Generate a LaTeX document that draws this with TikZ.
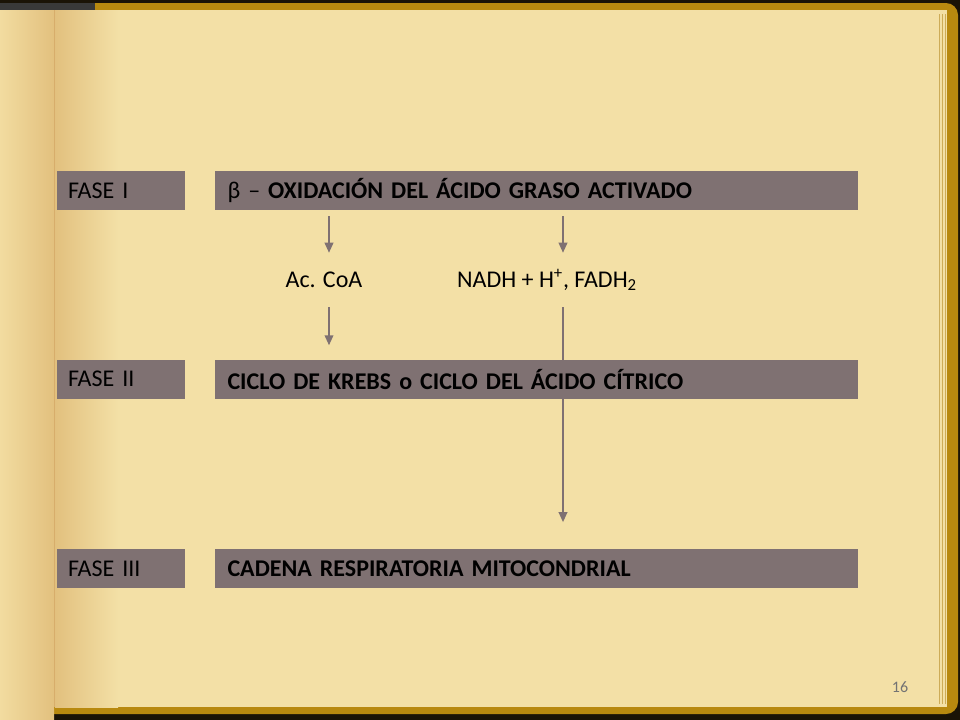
\documentclass[tikz,border=0pt]{standalone}
\usepackage{fontspec}
\setmainfont{Carlito}
\usetikzlibrary{positioning,arrows.meta}
\definecolor{boxgray}{HTML}{7F7172}
\definecolor{paper}{HTML}{F3E0A6}
\definecolor{paperlight}{HTML}{F2DCA0}
\definecolor{paperdark}{HTML}{E2C07E}
\definecolor{bookgold}{HTML}{B8890F}
\definecolor{bookblack}{HTML}{1A1306}
\pgfdeclarelayer{paperlayer}
\pgfdeclarelayer{linelayer}
\pgfsetlayers{paperlayer,linelayer,main}

\begin{document}
\begin{tikzpicture}[
                    x=0.75bp, y=-0.75bp,
                    node distance=21.75bp,
                    fase/.style={
                        rectangle,
                        fill=boxgray,
                        minimum width=96bp,
                        minimum height=29.25bp,
                        inner xsep=8.25bp,
                        text width=79.5bp,
                        align=left,
                        font=\fontsize{18bp}{20bp}\selectfont
                    },
                    stagebox/.style={
                        rectangle,
                        fill=boxgray,
                        minimum height=29.25bp,
                        inner xsep=9.75bp,
                        text width=462.75bp,
                        align=left,
                        font=\fontsize{18bp}{20bp}\selectfont\bfseries
                    },
                    product/.style={
                        inner sep=0pt,
                        minimum height=40.5bp,
                        font=\fontsize{18bp}{21bp}\selectfont
                    },
                    flow/.style={
                        draw=boxgray,
                        line width=1.2bp,
                        -{Triangle[length=7.5bp,width=6.5bp]}
                    }
                ]

                    % Book page
                    \begin{pgfonlayer}{paperlayer}
                    \fill[bookblack] (0,0) rectangle (960,720);
                    \fill[bookgold, rounded corners=9bp] (20,3) rectangle (958,714);
                    \fill[gray!45!black] (0,3) rectangle (95,10);
                    \fill[paper] (0,10) rectangle (947,707);
                    \foreach \px in {939,942,945}
                        \draw[bookgold!70, line width=0.6bp] (\px,14) -- (\px,704);
                    \shade[left color=paperlight, right color=paperdark] (0,10) rectangle (54,720);
                    \draw[paperdark!70!brown, line width=0.75bp] (54,10) -- (54,707);
                    \shade[left color=paperdark, right color=paper] (55,10) rectangle (118,707);
                    \end{pgfonlayer}

                    % Phases
                    \node[fase] (fase1) at (121,190.5) {FASE I};
                    \node[stagebox] (beta) [right=of fase1] {{\mdseries β –} OXIDACIÓN DEL ÁCIDO GRASO ACTIVADO};
                    \node[fase] (fase2) [below=111.75bp of fase1] {FASE II};
                    \node[stagebox] (krebs) [right=of fase2] {CICLO DE KREBS o CICLO DEL ÁCIDO CÍTRICO};
                    \node[fase] (fase3) [below=112.5bp of fase2] {FASE III};
                    \node[stagebox] (cadena) [right=of fase3] {CADENA RESPIRATORIA MITOCONDRIAL};

                    % Products
                    \node[product] (acoa) at (324,280) {Ac. CoA};
                    \node[product] (nadh) at (547,280) {NADH + H\textsuperscript{+}, FADH\textsubscript{2}};
                    \coordinate (colA) at (329,0);
                    \coordinate (colB) at (563,0);

                    % Arrows
                    \draw[flow, shorten <=4.5bp] (beta.south -| colA) -- (acoa.north -| colA);
                    \draw[flow, shorten <=4.5bp] (beta.south -| colB) -- (nadh.north -| colB);
                    \draw[flow, shorten >=10.5bp] (acoa.south -| colA) -- (krebs.north -| colA);
                    \begin{pgfonlayer}{linelayer}
                    \draw[flow, shorten >=20bp] (nadh.south -| colB) -- (cadena.north -| colB);
                    \end{pgfonlayer}

                    \node[text=gray!90!black, font=\fontsize{12bp}{14bp}\selectfont] (pagenum) at (900,687) {16};
                \end{tikzpicture}
\end{document}
